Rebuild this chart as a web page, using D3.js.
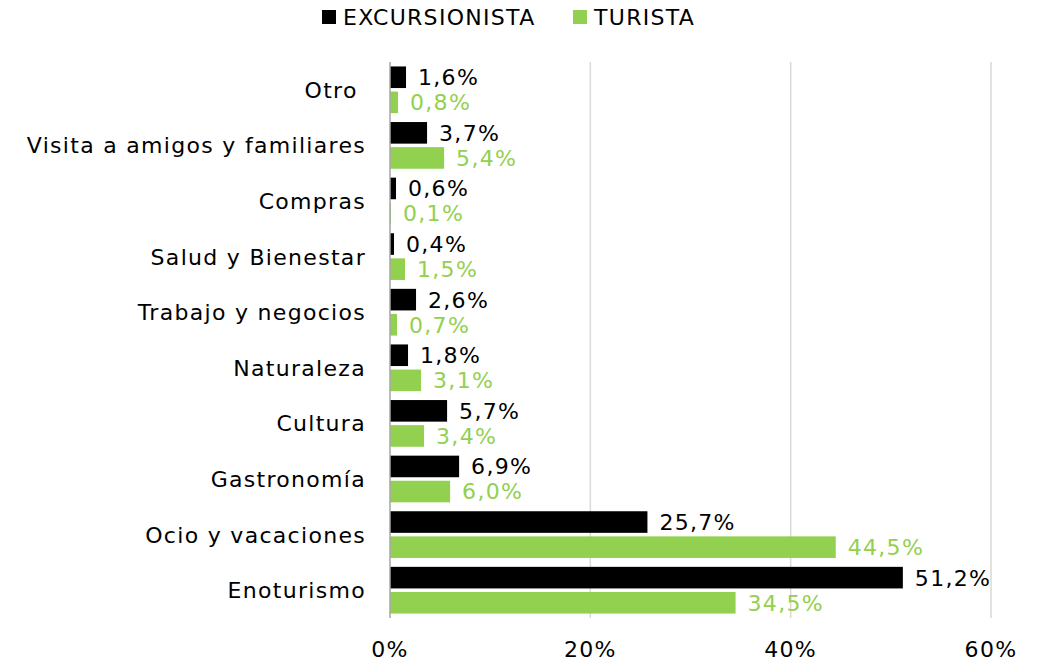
<!DOCTYPE html>
<html>
<head>
<meta charset="utf-8">
<script src="https://cdn.jsdelivr.net/npm/d3@7"></script>
<style>
  body { margin: 0; background: #fff; }
  text { font-family: "DejaVu Sans", sans-serif; letter-spacing: 1.3px; white-space: pre; }
</style>
</head>
<body>
<div id="chart"></div>
<script>
'use strict';
// data, top to bottom
var categories = ['Otro ', 'Visita a amigos y familiares', 'Compras', 'Salud y Bienestar',
    'Trabajo y negocios', 'Naturaleza', 'Cultura', 'Gastronomía', 'Ocio y vacaciones', 'Enoturismo'];
var excursionista = [1.6, 3.7, 0.6, 0.4, 2.6, 1.8, 5.7, 6.9, 25.7, 51.2];
var turista = [0.8, 5.4, 0.1, 1.5, 0.7, 3.1, 3.4, 6.0, 44.5, 34.5];
var seriesNames = ['EXCURSIONISTA', 'TURISTA'];
var seriesColors = ['#000000', '#92d050'];
var xTicks = [0, 20, 40, 60];

var width = 1041, height = 664;
var margin = {top: 62, right: 50, bottom: 46, left: 390};
var fontSize = 22;

var svg = d3.select('#chart').append('svg')
    .attr('width', width)
    .attr('height', height);

var x = d3.scaleLinear().domain([0, 60]).range([margin.left, 991]);
var y = d3.scaleBand().domain(categories)
    .range([margin.top, height - margin.bottom])
    .paddingInner(0.16).paddingOuter(0.08);
var ySub = d3.scaleBand().domain([0, 1]).range([0, y.bandwidth()]).paddingInner(0.14);

var fmt = function (v) { return v.toFixed(1).replace('.', ',') + '%'; };

// gridlines
svg.append('g').selectAll('line').data(xTicks.slice(1)).enter().append('line')
    .attr('x1', function (d) { return x(d); }).attr('x2', function (d) { return x(d); })
    .attr('y1', margin.top).attr('y2', height - margin.bottom)
    .attr('stroke', '#d9d9d9').attr('stroke-width', 1.5);

var rows = categories.map(function (c, i) {
    return {cat: c, vals: [excursionista[i], turista[i]]};
});

var groups = svg.append('g').selectAll('g.row').data(rows).enter().append('g')
    .attr('class', 'row')
    .attr('transform', function (d) { return 'translate(0,' + y(d.cat) + ')'; });

groups.selectAll('rect').data(function (d) { return d.vals; }).enter().append('rect')
    .attr('x', x(0))
    .attr('y', function (d, j) { return ySub(j); })
    .attr('width', function (d) { return x(d) - x(0); })
    .attr('height', ySub.bandwidth())
    .attr('fill', function (d, j) { return seriesColors[j]; });

groups.selectAll('text.val').data(function (d) { return d.vals; }).enter().append('text')
    .attr('class', 'val')
    .attr('x', function (d) { return x(d) + 12; })
    .attr('y', function (d, j) { return ySub(j) + ySub.bandwidth() / 2; })
    .attr('dy', '0.36em')
    .attr('font-size', fontSize)
    .attr('fill', function (d, j) { return seriesColors[j]; })
    .text(fmt);

// category axis line
svg.append('line')
    .attr('x1', x(0)).attr('x2', x(0))
    .attr('y1', margin.top).attr('y2', height - margin.bottom)
    .attr('stroke', '#a6a6a6').attr('stroke-width', 1.5);

// category labels
svg.append('g').selectAll('text').data(categories).enter().append('text')
    .attr('x', 366)
    .attr('y', function (d) { return y(d) + y.bandwidth() / 2; })
    .attr('dy', '0.36em')
    .attr('text-anchor', 'end')
    .attr('font-size', fontSize)
    .attr('fill', '#000')
    .text(function (d) { return d; });

// x tick labels
svg.append('g').selectAll('text').data(xTicks).enter().append('text')
    .attr('x', function (d) { return x(d); })
    .attr('y', 649)
    .attr('dy', '0.36em')
    .attr('text-anchor', 'middle')
    .attr('font-size', fontSize)
    .attr('fill', '#000')
    .text(function (d) { return d + '%'; });

// legend
var legendX = [322, 573];
var legend = svg.append('g').selectAll('g').data(seriesNames).enter().append('g')
    .attr('transform', function (d, i) { return 'translate(' + legendX[i] + ',17)'; });
legend.append('rect').attr('x', 0).attr('y', -7).attr('width', 14).attr('height', 14)
    .attr('fill', function (d, i) { return seriesColors[i]; });
legend.append('text').attr('x', 21).attr('dy', '0.36em')
    .attr('font-size', fontSize).attr('fill', '#000')
    .text(function (d) { return d; });
</script>
</body>
</html>
